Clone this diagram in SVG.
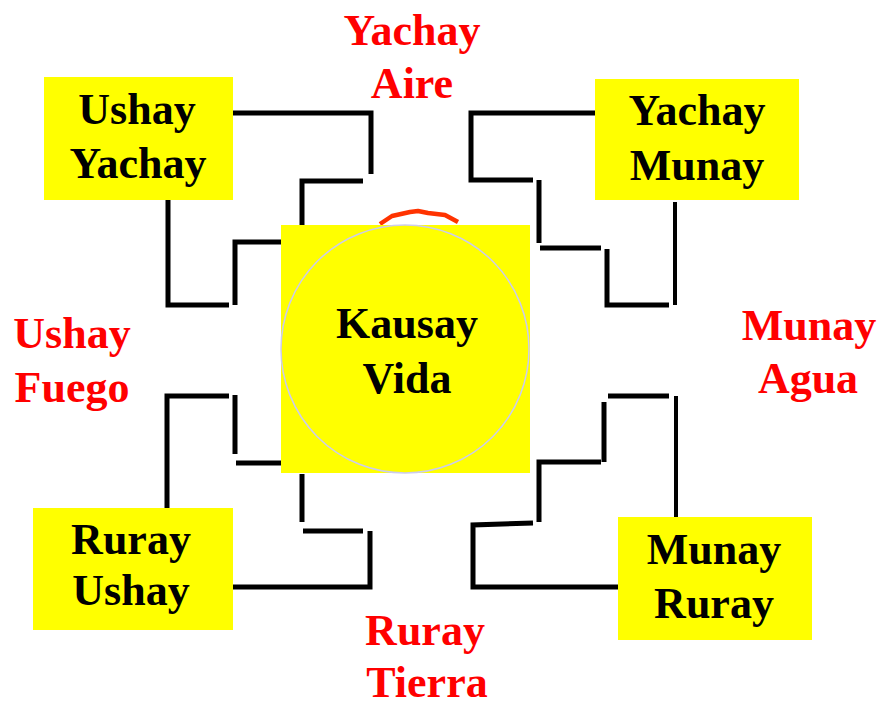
<svg xmlns="http://www.w3.org/2000/svg" width="880" height="702" viewBox="0 0 880 702">
<style>
.box{fill:#ffff00}
.t{font-family:"Liberation Serif","Times New Roman",serif;font-weight:bold;font-size:44px;text-anchor:middle}
.k{fill:#000}
.r{fill:#ff0000}
.c{fill:none;stroke:#000;stroke-width:5;stroke-linecap:butt;stroke-linejoin:miter}
.thin{stroke-width:4}
</style>
<rect width="880" height="702" fill="#fff"/>
<g id="connectors">
<polyline class="c" points="233,113 371,113 371,174"/>
<polyline class="c" points="363,181 302,181 302,225"/>
<polyline class="c" points="168,200 168,305 229,305"/>
<polyline class="c" points="235,305 235,242 281,242"/>
<polyline class="c" points="595,113 471,113 471,180 533,180"/>
<line class="c" x1="539" y1="180" x2="539" y2="243"/>
<line class="c" x1="540" y1="248" x2="601" y2="248"/>
<polyline class="c" points="607,249 607,305 669,305"/>
<line class="c thin" x1="675" y1="305" x2="675" y2="202"/>
<polyline class="c" points="167,508 167,396 229,396"/>
<line class="c" x1="235" y1="395" x2="235" y2="454"/>
<line class="c" x1="236" y1="463" x2="281" y2="463"/>
<line class="c" x1="302" y1="474" x2="302" y2="522"/>
<line class="c" x1="303" y1="531" x2="363" y2="531"/>
<polyline class="c" points="233,587 370,587 370,531"/>
<line class="c" x1="608" y1="396" x2="669" y2="396"/>
<line class="c thin" x1="676" y1="396" x2="676" y2="517"/>
<line class="c" x1="604" y1="402" x2="604" y2="462"/>
<polyline class="c" points="601,462 539,462 539,522"/>
<polyline class="c" points="533,523 473,525 473,587 618,587"/>
<polyline points="380,224 392,216 410,212 418,211 428,213 445,215 458,222" fill="none" stroke="#ff3300" stroke-width="4.5" stroke-linejoin="round"/>
</g>
<g id="center">
<rect class="box" x="281" y="225" width="249" height="248"/>
<circle cx="405" cy="349" r="124" fill="none" stroke="#ccccee" stroke-width="1.5"/>
<text class="t k" x="407" y="338">Kausay</text>
<text class="t k" x="407" y="393">Vida</text>
</g>
<g id="ushay-yachay">
<rect class="box" x="44" y="77" width="189" height="123"/>
<text class="t k" x="137" y="124">Ushay</text>
<text class="t k" x="138" y="178">Yachay</text>
</g>
<g id="yachay-munay">
<rect class="box" x="595" y="79" width="204" height="121"/>
<text class="t k" x="697" y="125">Yachay</text>
<text class="t k" x="697" y="180">Munay</text>
</g>
<g id="ruray-ushay">
<rect class="box" x="33" y="508" width="200" height="122"/>
<text class="t k" x="131" y="554">Ruray</text>
<text class="t k" x="131" y="605">Ushay</text>
</g>
<g id="munay-ruray">
<rect class="box" x="618" y="517" width="194" height="123"/>
<text class="t k" x="714" y="564">Munay</text>
<text class="t k" x="714" y="618">Ruray</text>
</g>
<g id="yachay-aire">
<text class="t r" x="412" y="45">Yachay</text>
<text class="t r" x="412" y="98">Aire</text>
</g>
<g id="ushay-fuego">
<text class="t r" x="72" y="348">Ushay</text>
<text class="t r" x="72" y="402">Fuego</text>
</g>
<g id="munay-agua">
<text class="t r" x="809" y="340">Munay</text>
<text class="t r" x="808" y="393">Agua</text>
</g>
<g id="ruray-tierra">
<text class="t r" x="425" y="645">Ruray</text>
<text class="t r" x="427" y="697">Tierra</text>
</g>
</svg>
